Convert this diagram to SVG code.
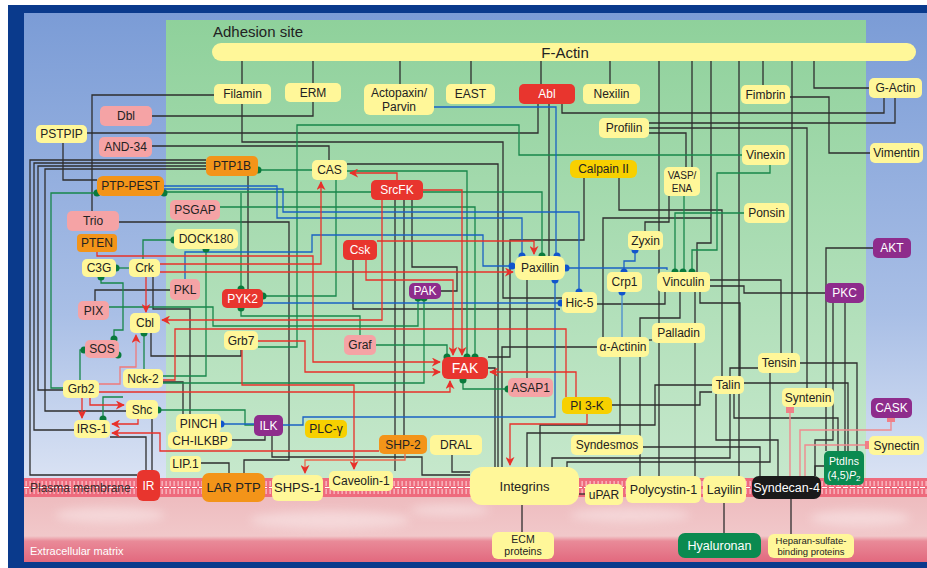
<svg xmlns="http://www.w3.org/2000/svg" width="927" height="568" viewBox="0 0 927 568">
<defs>
<linearGradient id="bgBlue" x1="0" y1="0" x2="0" y2="1">
<stop offset="0" stop-color="#7b9cd6"/><stop offset="0.55" stop-color="#a9bfe6"/><stop offset="1" stop-color="#f2f4fa"/>
</linearGradient>
<linearGradient id="bgGreen" x1="0" y1="0" x2="0" y2="1">
<stop offset="0" stop-color="#8fd19b"/><stop offset="1" stop-color="#c6e8cc"/>
</linearGradient>
<linearGradient id="ecm" x1="0" y1="0" x2="0" y2="1">
<stop offset="0" stop-color="#eebcbf"/><stop offset="0.6" stop-color="#f1c8ca"/><stop offset="0.68" stop-color="#e98a98"/><stop offset="1" stop-color="#e2697e"/>
</linearGradient>
<filter id="blur" x="-20%" y="-50%" width="140%" height="200%"><feGaussianBlur stdDeviation="5"/></filter>
<pattern id="mem" x="0" y="478" width="4" height="19" patternUnits="userSpaceOnUse">
<rect width="4" height="19" fill="#ee6b7d"/>
<rect x="1.6" y="3" width="1" height="5" fill="#ffd9de"/>
<rect x="1.6" y="11" width="1" height="5" fill="#ffd9de"/>
</pattern>
<marker id="ar" viewBox="0 0 10 10" refX="9" refY="5" markerWidth="9" markerHeight="9" markerUnits="userSpaceOnUse" orient="auto">
<path d="M0,0 L10,5 L0,10 L3,5 z" fill="#e8302a"/>
</marker>
<style>
text{font-family:"Liberation Sans",Arial,sans-serif;font-size:12px;text-anchor:middle;fill:#222}
.y{fill:#fff799}
.r{fill:#e8352e}
.o{fill:#f39419}
.p{fill:#f5a3a5}
.pu{fill:#8e2c8c}
.g{fill:#f7d000}
.dg{fill:#0b8a50}
.bk{fill:#1a1a1a}
.wt{fill:#fff}
.k{stroke:#2e2e2e;stroke-width:1.3;fill:none}
.gr{stroke:#17864a;stroke-width:1.3;fill:none}
.bl{stroke:#1a62c4;stroke-width:1.3;fill:none}
.rd{stroke:#e8302a;stroke-width:1.3;fill:none;marker-end:url(#ar)}
.rl{stroke:#e8302a;stroke-width:1.3;fill:none}
.pk{stroke:#f08a8e;stroke-width:1.4;fill:none}
.dgr{fill:#0a7a3c}
.dbl{fill:#1155cc}
.sq{fill:#f07f87}
.blob{fill:#fff;opacity:0.35;filter:url(#blur)}
</style>
</defs>

<!-- background -->
<rect x="0" y="0" width="927" height="568" fill="#ffffff"/>
<rect x="8" y="5" width="919" height="563" fill="#0a3a8c"/>
<rect x="24" y="13" width="903" height="549" fill="url(#bgBlue)"/>
<rect x="166" y="20" width="700" height="458" fill="url(#bgGreen)"/>
<rect x="24" y="497" width="903" height="65" fill="url(#ecm)"/>
<ellipse class="blob" cx="110" cy="515" rx="55" ry="8"/>
<ellipse class="blob" cx="330" cy="520" rx="80" ry="9"/>
<ellipse class="blob" cx="450" cy="510" rx="40" ry="6"/>
<ellipse class="blob" cx="630" cy="515" rx="60" ry="7"/>
<ellipse class="blob" cx="860" cy="518" rx="50" ry="8"/>
<rect x="24" y="478" width="903" height="19" fill="url(#mem)"/>
<line x1="24" y1="487.5" x2="927" y2="487.5" stroke="#fff" stroke-width="1.2" stroke-dasharray="5 2"/>
<text x="213" y="37" style="font-size:15px;text-anchor:start">Adhesion site</text>
<text x="30" y="492" style="font-size:12px;text-anchor:start;fill:#3a2a2a">Plasma membrane</text>
<text x="30" y="555" style="font-size:11px;text-anchor:start;fill:#fff">Extracellular matrix</text>

<g id="connectors">
<g id="black">
<path class="k" d="M242,61V84M313,61V83M400,61V84M471,61V84M541,61V84M610,61V84"/>
<path class="k" d="M659,61V476"/>
<path class="k" d="M692,61V167"/>
<path class="k" d="M711,61V243H697V272"/>
<path class="k" d="M739,61V476"/>
<path class="k" d="M763,61V85"/>
<path class="k" d="M792,61V363H857V451"/>
<path class="k" d="M814,61V88H869"/>
<path class="k" d="M790,97H829V153H870"/>
<path class="k" d="M884,98V113H562V104"/>
<path class="k" d="M895,98V123H649"/>
<path class="k" d="M649,128H807V388"/>
<path class="k" d="M649,133H686V167"/>
<path class="k" d="M214,95H92V211"/>
<path class="k" d="M242,104V142H503V298H562"/>
<path class="k" d="M152,116H313V102"/>
<path class="k" d="M87,133H538V104"/>
<path class="k" d="M152,146H329V160"/>
<path class="k" d="M63,143V180H97"/>
<path class="k" d="M206,160H30V475H137"/>
<path class="k" d="M206,163H34V430H74"/>
<path class="k" d="M206,166H38V390H63"/>
<path class="k" d="M206,169H45V411H126"/>
<path class="k" d="M248,176V289"/>
<path class="k" d="M119,222H289V460H244V473"/>
<path class="k" d="M347,164H498V467"/>
<path class="k" d="M549,104V256"/>
<path class="k" d="M584,178V240H510V357H488"/>
<path class="k" d="M619,178V210H722V376"/>
<path class="k" d="M353,260V309H560"/>
<path class="k" d="M441,291H457V267H412V200"/>
<path class="k" d="M395,200V471"/>
<path class="k" d="M404,200V435"/>
<path class="k" d="M163,382H183V414"/>
<path class="k" d="M232,440H265V436"/>
<path class="k" d="M272,436V457H422V475H470"/>
<path class="k" d="M201,463H229V473"/>
<path class="k" d="M452,455V472H470"/>
<path class="k" d="M724,503V533"/>
<path class="k" d="M522,505V532"/>
<path class="k" d="M791,499V534"/>
<path class="k" d="M815,476V466H824"/>
<path class="k" d="M585,494H579"/>
<path class="k" d="M643,447H760V476"/>
<path class="k" d="M552,467V458H730V394"/>
<path class="k" d="M567,467V462H770V373"/>
<path class="k" d="M495,467V368H488"/>
<path class="k" d="M502,467V347H597"/>
<path class="k" d="M527,280V378"/>
<path class="k" d="M620,357V433H527V467"/>
<path class="k" d="M712,385H655V425H540V467"/>
<path class="k" d="M597,304H665V292"/>
<path class="k" d="M640,337V318H680V292"/>
<path class="k" d="M640,357V476"/>
<path class="k" d="M695,292V476"/>
<path class="k" d="M652,340H649"/>
<path class="k" d="M669,196V222H645V231"/>
<path class="k" d="M603,337V218H711"/>
<path class="k" d="M710,280H781V353"/>
<path class="k" d="M710,286H744V293H825"/>
<path class="k" d="M700,292V303H740V376"/>
<path class="k" d="M873,248H826V451"/>
<path class="k" d="M845,303V451"/>
<path class="k" d="M833,303V440H815V476"/>
<path class="k" d="M758,368H730V376"/>
<path class="k" d="M744,383H848V451"/>
<path class="k" d="M734,394V418H838V451"/>
<path class="k" d="M716,394V440H778V476"/>
<path class="k" d="M612,405H700V392H712"/>
<path class="k" d="M153,277V309H190V414"/>
<path class="k" d="M170,290H95V301"/>
<path class="k" d="M151,333V356H241V350"/>
<path class="k" d="M110,437H146V470"/>
<path class="k" d="M152,419V470"/>
</g>
<g id="green">
<path class="gr" d="M258,170H312"/>
<path class="gr" d="M164,192H542V253"/>
<path class="gr" d="M97,193H51V388H63"/>
<path class="gr" d="M336,180V296H266"/>
<path class="gr" d="M174,240H143V259"/>
<path class="gr" d="M206,249V376H163"/>
<path class="gr" d="M116,268H129"/>
<path class="gr" d="M101,277V283H123V330H114V336"/>
<path class="gr" d="M84,350H80V380"/>
<path class="gr" d="M144,333V369"/>
<path class="gr" d="M158,410H245V425H254"/>
<path class="gr" d="M103,419V397H123"/>
<path class="gr" d="M241,289V193"/>
<path class="gr" d="M241,308V316H360V335"/>
<path class="gr" d="M109,307H213V326H418V298"/>
<path class="gr" d="M424,298V383H163"/>
<path class="gr" d="M376,345H447V354"/>
<path class="gr" d="M347,171H467V354"/>
<path class="gr" d="M220,207H475V354"/>
<path class="gr" d="M505,389H463V382"/>
<path class="gr" d="M258,347H297V125H519V155H742"/>
<path class="gr" d="M744,213H675V270"/>
<path class="gr" d="M684,196V270"/>
<path class="gr" d="M770,165V173H717V250H692V270"/>
</g>
<g id="blue">
<path class="bl" d="M434,107H556V253"/>
<path class="bl" d="M185,279V252H312V235H483V266H510"/>
<path class="bl" d="M164,186H277V218H522V253"/>
<path class="bl" d="M164,189H283V212H579V289"/>
<path class="bl" d="M566,268H667V270"/>
<path class="bl" d="M635,250V261H624V270"/>
<path class="bl" d="M622,292V337" style="stroke:#4a8ad0"/>
<path class="bl" d="M263,303H558"/>
<path class="bl" d="M221,424H254"/>
<path class="bl" d="M283,425H303V417H555V283"/>
</g>
<g id="red">
<path class="rd" d="M397,180V173H350"/>
<path class="rd" d="M160,264H321V182"/>
<path class="rd" d="M382,200V320H162"/>
<path class="rd" d="M146,277V312"/>
<path class="rd" d="M423,190H462V355"/>
<path class="rd" d="M366,260V280H453V355"/>
<path class="rd" d="M377,241H534V254"/>
<path class="rd" d="M160,272H513"/>
<path class="rd" d="M97,252V256H313V362H440"/>
<path class="rd" d="M258,341H305V372H440"/>
<path class="rd" d="M99,392H450V381"/>
<path class="rd" d="M90,398V405H124"/>
<path class="rd" d="M82,398V418"/>
<path class="rd" d="M138,419V424H112"/>
<path class="rd" d="M379,451H160V433H112"/>
<path class="rd" d="M405,454V460H305V473" style="stroke:#ea6a50"/>
<path class="rd" d="M242,350V385H354V469"/>
<path class="rd" d="M587,413V424H510V465"/>
<path class="rd" d="M576,397V372H490"/>
<path class="rl" d="M163,380H175V329H566V397"/>
<path class="rd" d="M99,384H120V367H136V335" style="stroke:#f07a7a"/>
</g>
<g id="pink">
<path class="pk" d="M790,409V476"/>
<path class="pk" d="M891,418V430H800V476"/>
<path class="pk" d="M869,445H805V476"/>
</g>
<g id="dots">
<circle class="dgr" cx="258" cy="170" r="3.5"/>
<circle class="dgr" cx="97" cy="193" r="3.5"/>
<circle class="dgr" cx="164" cy="193" r="3.5"/>
<circle class="dgr" cx="174" cy="240" r="3.5"/>
<circle class="dgr" cx="206" cy="249" r="3.5"/>
<circle class="dgr" cx="116" cy="268" r="3.5"/>
<circle class="dgr" cx="101" cy="277" r="3.5"/>
<circle class="dgr" cx="241" cy="289" r="3.5"/>
<circle class="dgr" cx="263" cy="296" r="3.5"/>
<circle class="dgr" cx="241" cy="308" r="3.5"/>
<circle class="dgr" cx="418" cy="298" r="3.5"/>
<circle class="dgr" cx="424" cy="298" r="3.5"/>
<circle class="dgr" cx="144" cy="333" r="3.5"/>
<circle class="dgr" cx="114" cy="339" r="3.5"/>
<circle class="dgr" cx="118" cy="355" r="3.5"/>
<circle class="dgr" cx="84" cy="350" r="3.5"/>
<circle class="dgr" cx="158" cy="410" r="3.5"/>
<circle class="dgr" cx="103" cy="419" r="3.5"/>
<circle class="dgr" cx="675" cy="272" r="3.5"/>
<circle class="dgr" cx="683" cy="272" r="3.5"/>
<circle class="dgr" cx="692" cy="272" r="3.5"/>
<circle class="dgr" cx="508" cy="389" r="3.5"/>
<circle class="dgr" cx="447" cy="357" r="3.5"/>
<circle class="dgr" cx="467" cy="357" r="3.5"/>
<circle class="dgr" cx="475" cy="357" r="3.5"/>
<circle class="dgr" cx="463" cy="380" r="3.5"/>
<circle class="dgr" cx="542" cy="256" r="3.5"/>
<circle class="dbl" cx="522" cy="256" r="3.5"/>
<circle class="dbl" cx="557" cy="256" r="3.5"/>
<circle class="dbl" cx="512" cy="266" r="3.5"/>
<circle class="dbl" cx="566" cy="268" r="3.5"/>
<circle class="dbl" cx="555" cy="280" r="3.5"/>
<circle class="dbl" cx="221" cy="424" r="3.5"/>
<circle class="dbl" cx="635" cy="250" r="3.5"/>
<circle class="dbl" cx="624" cy="272" r="3.5"/>
<circle class="dbl" cx="622" cy="292" r="3.5"/>
<circle class="dbl" cx="579" cy="292" r="3.5"/>
<circle class="dbl" cx="561" cy="303" r="3.5"/>
<rect class="sq" x="786" y="405" width="8" height="8"/>
<rect class="sq" x="887" y="414" width="8" height="8"/>
<rect class="sq" x="865" y="441" width="8" height="8"/>
</g>
</g>

<g id="nodes">
<g id="n-factin"><rect class="y" x="212" y="43" width="704" height="18" rx="9"/><text x="565" y="58" style="font-size:15px">F-Actin</text></g>
<g id="n-filamin"><rect class="y" x="214" y="84" width="57" height="20" rx="5"/><text x="242.5" y="98">Filamin</text></g>
<g id="n-erm"><rect class="y" x="285" y="83" width="56" height="19" rx="5"/><text x="313" y="97">ERM</text></g>
<g id="n-actopaxin"><rect class="y" x="364" y="84" width="70" height="31" rx="6"/><text x="399" y="97">Actopaxin/</text><text x="399" y="111">Parvin</text></g>
<g id="n-east"><rect class="y" x="446" y="84" width="49" height="20" rx="5"/><text x="470.5" y="98">EAST</text></g>
<g id="n-abl"><rect class="r" x="519" y="84" width="56" height="20" rx="5"/><text class="wt" x="547" y="98">Abl</text></g>
<g id="n-nexilin"><rect class="y" x="583" y="84" width="57" height="20" rx="5"/><text x="611.5" y="98">Nexilin</text></g>
<g id="n-fimbrin"><rect class="y" x="741" y="85" width="49" height="19" rx="5"/><text x="765.5" y="99">Fimbrin</text></g>
<g id="n-gactin"><rect class="y" x="869" y="78" width="53" height="20" rx="5"/><text x="895.5" y="92">G-Actin</text></g>
<g id="n-profilin"><rect class="y" x="599" y="118" width="50" height="20" rx="5"/><text x="624" y="132">Profilin</text></g>
<g id="n-dbl"><rect class="p" x="100" y="106" width="52" height="20" rx="5"/><text x="126" y="120">Dbl</text></g>
<g id="n-pstpip"><rect class="y" x="36" y="125" width="51" height="18" rx="5"/><text x="61.5" y="138">PSTPIP</text></g>
<g id="n-and34"><rect class="p" x="99" y="137" width="53" height="20" rx="5"/><text x="125.5" y="151">AND-34</text></g>
<g id="n-vimentin"><rect class="y" x="870" y="143" width="53" height="20" rx="5"/><text x="896.5" y="157">Vimentin</text></g>
<g id="n-vinexin"><rect class="y" x="742" y="145" width="47" height="20" rx="5"/><text x="765.5" y="159">Vinexin</text></g>
<g id="n-ptp1b"><rect class="o" x="206" y="156" width="52" height="20" rx="5"/><text x="232" y="170">PTP1B</text></g>
<g id="n-cas"><rect class="y" x="312" y="160" width="35" height="20" rx="5"/><text x="329.5" y="174">CAS</text></g>
<g id="n-calpain"><rect class="g" x="570" y="160" width="67" height="18" rx="6"/><text x="603.5" y="173">Calpain II</text></g>
<g id="n-vasp"><rect class="y" x="664" y="167" width="36" height="29" rx="5"/><text x="682" y="179" style="font-size:10px">VASP/</text><text x="682" y="192" style="font-size:10px">ENA</text></g>
<g id="n-ptppest"><rect class="o" x="97" y="176" width="67" height="20" rx="6"/><text x="130.5" y="190">PTP-PEST</text></g>
<g id="n-srcfk"><rect class="r" x="371" y="180" width="52" height="20" rx="5"/><text class="wt" x="397" y="194">SrcFK</text></g>
<g id="n-psgap"><rect class="p" x="170" y="200" width="50" height="20" rx="5"/><text x="195" y="214">PSGAP</text></g>
<g id="n-ponsin"><rect class="y" x="744" y="203" width="45" height="20" rx="5"/><text x="766.5" y="217">Ponsin</text></g>
<g id="n-trio"><rect class="p" x="67" y="211" width="52" height="20" rx="5"/><text x="93" y="225">Trio</text></g>
<g id="n-dock180"><rect class="y" x="174" y="229" width="64" height="20" rx="5"/><text x="206" y="243">DOCK180</text></g>
<g id="n-zyxin"><rect class="y" x="628" y="231" width="35" height="19" rx="5"/><text x="645.5" y="245">Zyxin</text></g>
<g id="n-pten"><rect class="o" x="77" y="234" width="40" height="18" rx="4"/><text x="97" y="247">PTEN</text></g>
<g id="n-akt"><rect class="pu" x="873" y="238" width="38" height="20" rx="5"/><text class="wt" x="892" y="252">AKT</text></g>
<g id="n-csk"><rect class="r" x="343" y="240" width="34" height="20" rx="5"/><text class="wt" x="360" y="254">Csk</text></g>
<g id="n-paxillin"><rect class="y" x="515" y="256" width="50" height="24" rx="8"/><text x="540" y="272">Paxillin</text></g>
<g id="n-c3g"><rect class="y" x="82" y="259" width="34" height="18" rx="5"/><text x="99" y="272">C3G</text></g>
<g id="n-crk"><rect class="y" x="129" y="259" width="31" height="18" rx="5"/><text x="144.5" y="272">Crk</text></g>
<g id="n-crp1"><rect class="y" x="607" y="272" width="35" height="20" rx="5"/><text x="624.5" y="286">Crp1</text></g>
<g id="n-vinculin"><rect class="y" x="657" y="272" width="53" height="20" rx="5"/><text x="683.5" y="286">Vinculin</text></g>
<g id="n-pkl"><rect class="p" x="170" y="279" width="30" height="21" rx="5"/><text x="185" y="294">PKL</text></g>
<g id="n-pak"><rect class="pu" x="409" y="283" width="32" height="16" rx="5"/><text class="wt" x="425" y="295">PAK</text></g>
<g id="n-pkc"><rect class="pu" x="825" y="283" width="39" height="20" rx="5"/><text class="wt" x="844.5" y="297">PKC</text></g>
<g id="n-pyk2"><rect class="r" x="222" y="289" width="41" height="19" rx="5"/><text class="wt" x="242.5" y="303">PYK2</text></g>
<g id="n-hic5"><rect class="y" x="562" y="292" width="35" height="21" rx="5"/><text x="579.5" y="307">Hic-5</text></g>
<g id="n-pix"><rect class="p" x="78" y="301" width="31" height="19" rx="5"/><text x="93.5" y="315">PIX</text></g>
<g id="n-cbl"><rect class="y" x="130" y="313" width="30" height="20" rx="5"/><text x="145" y="327">Cbl</text></g>
<g id="n-palladin"><rect class="y" x="652" y="323" width="53" height="20" rx="5"/><text x="678.5" y="337">Palladin</text></g>
<g id="n-grb7"><rect class="y" x="224" y="331" width="34" height="19" rx="5"/><text x="241" y="345">Grb7</text></g>
<g id="n-graf"><rect class="p" x="344" y="335" width="32" height="20" rx="5"/><text x="360" y="349">Graf</text></g>
<g id="n-actinin"><rect class="y" x="597" y="337" width="52" height="20" rx="5"/><text x="623" y="351">α-Actinin</text></g>
<g id="n-sos"><rect class="p" x="85" y="340" width="34" height="18" rx="5"/><text x="102" y="353">SOS</text></g>
<g id="n-tensin"><rect class="y" x="758" y="353" width="42" height="20" rx="5"/><text x="779" y="367">Tensin</text></g>
<g id="n-fak"><rect class="r" x="442" y="357" width="46" height="22" rx="6"/><text class="wt" x="465" y="373" style="font-size:14px">FAK</text></g>
<g id="n-nck2"><rect class="y" x="123" y="369" width="40" height="19" rx="5"/><text x="143" y="383">Nck-2</text></g>
<g id="n-talin"><rect class="y" x="712" y="376" width="32" height="18" rx="5"/><text x="728" y="389">Talin</text></g>
<g id="n-asap1"><rect class="p" x="508" y="378" width="45" height="19" rx="5"/><text x="530.5" y="392">ASAP1</text></g>
<g id="n-grb2"><rect class="y" x="63" y="380" width="36" height="18" rx="5"/><text x="81" y="393">Grb2</text></g>
<g id="n-syntenin"><rect class="y" x="782" y="388" width="52" height="19" rx="5"/><text x="808" y="402">Syntenin</text></g>
<g id="n-pi3k"><rect class="g" x="562" y="397" width="50" height="17" rx="5"/><text x="587" y="410">PI 3-K</text></g>
<g id="n-cask"><rect class="pu" x="871" y="398" width="41" height="20" rx="5"/><text class="wt" x="891.5" y="412">CASK</text></g>
<g id="n-shc"><rect class="y" x="126" y="400" width="32" height="19" rx="5"/><text x="142" y="414">Shc</text></g>
<g id="n-pinch"><rect class="y" x="176" y="414" width="45" height="19" rx="5"/><text x="198.5" y="428">PINCH</text></g>
<g id="n-ilk"><rect class="pu" x="254" y="415" width="29" height="21" rx="5"/><text class="wt" x="268.5" y="430">ILK</text></g>
<g id="n-irs1"><rect class="y" x="74" y="420" width="36" height="18" rx="5"/><text x="92" y="433">IRS-1</text></g>
<g id="n-plcg"><rect class="g" x="305" y="420" width="42" height="18" rx="5"/><text x="326" y="433">PLC-γ</text></g>
<g id="n-chilkbp"><rect class="y" x="168" y="432" width="64" height="17" rx="5"/><text x="200" y="445">CH-ILKBP</text></g>
<g id="n-shp2"><rect class="o" x="379" y="435" width="48" height="19" rx="5"/><text x="403" y="449">SHP-2</text></g>
<g id="n-dral"><rect class="y" x="430" y="435" width="52" height="20" rx="5"/><text x="456" y="449">DRAL</text></g>
<g id="n-syndesmos"><rect class="y" x="571" y="435" width="72" height="20" rx="5"/><text x="607" y="449">Syndesmos</text></g>
<g id="n-synectin"><rect class="y" x="869" y="436" width="55" height="19" rx="5"/><text x="896.5" y="450">Synectin</text></g>
<g id="n-ptdins"><rect class="dg" x="824" y="451" width="40" height="34" rx="5"/><text class="wt" x="844" y="465" style="font-size:10.5px">PtdIns</text><text class="wt" x="844" y="479" style="font-size:10.5px">(4,5)<tspan style="font-style:italic">P</tspan><tspan style="font-size:8px" dy="2">2</tspan></text></g>
<g id="n-lip1"><rect class="y" x="170" y="456" width="31" height="16" rx="4"/><text x="185.5" y="468">LIP.1</text></g>
<g id="n-integrins"><rect class="y" x="470" y="467" width="109" height="38" rx="12"/><text x="524.5" y="491" style="font-size:13px">Integrins</text></g>
<g id="n-ir"><rect class="r" x="137" y="470" width="23" height="31" rx="6"/><text class="wt" x="148.5" y="490">IR</text></g>
<g id="n-caveolin"><rect class="y" x="329" y="471" width="64" height="20" rx="5"/><text x="361" y="485">Caveolin-1</text></g>
<g id="n-larptp"><rect class="o" x="202" y="473" width="63" height="29" rx="7"/><text x="233.5" y="492" style="font-size:13px">LAR PTP</text></g>
<g id="n-shps1"><rect class="y" x="272" y="475" width="51" height="26" rx="6"/><text x="297.5" y="492" style="font-size:13px">SHPS-1</text></g>
<g id="n-polycystin"><rect class="y" x="626" y="476" width="75" height="27" rx="6"/><text x="663.5" y="494" style="font-size:12.5px">Polycystin-1</text></g>
<g id="n-layilin"><rect class="y" x="703" y="476" width="43" height="27" rx="6"/><text x="724.5" y="494" style="font-size:12.5px">Layilin</text></g>
<g id="n-syndecan"><rect class="bk" x="752" y="476" width="69" height="23" rx="7"/><text class="wt" x="786.5" y="492" style="font-size:12.5px">Syndecan-4</text></g>
<g id="n-upar"><rect class="y" x="585" y="484" width="38" height="21" rx="5"/><text x="604" y="499">uPAR</text></g>
<g id="n-ecm"><rect class="y" x="492" y="532" width="62" height="27" rx="6"/><text x="523" y="543" style="font-size:10.5px">ECM</text><text x="523" y="555" style="font-size:10.5px">proteins</text></g>
<g id="n-hyaluronan"><rect class="dg" x="678" y="533" width="83" height="25" rx="7"/><text class="wt" x="719.5" y="550" style="font-size:12.5px">Hyaluronan</text></g>
<g id="n-heparan"><rect class="y" x="768" y="534" width="86" height="24" rx="6"/><text x="811" y="544" style="font-size:9.5px">Heparan-sulfate-</text><text x="811" y="555" style="font-size:9.5px">binding proteins</text></g>
</g>
</svg>
